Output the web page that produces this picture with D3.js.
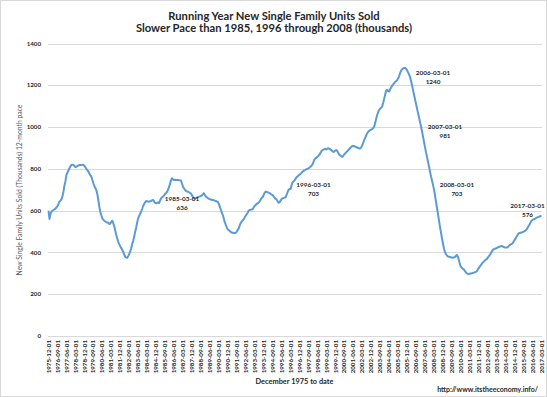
<!DOCTYPE html>
<html>
<head>
  <meta charset="utf-8">
  <title>Running Year New Single Family Units Sold</title>
  <script src="https://d3js.org/d3.v7.min.js"></script>
  <style>
    body {
      margin: 0;
      background: #fff;
      font-family: Lato, "Open Sans", sans-serif;
    }
    .grid line { stroke: #d9d9d9; stroke-width: 1; }
    .tick-label { font-size: 6.2px; font-weight: bold; fill: #262626; }
    .ann { font-size: 6.4px; font-weight: bold; fill: #262626; text-anchor: middle; }
  </style>
</head>
<body>
  <div id="chart"></div>

  <script>
    // first and last month of the series (12-month running total, thousands)
    const firstMonth = "1975-12-01";
    const lastMonth = "2017-03-01";

    // one row per year
    const unitsSold = [
      600,                                                              // 1975
      560, 585, 595, 600, 603, 606, 610, 615, 622, 632, 643, 648,      // 1976
      654, 668, 691, 720, 740, 771, 782, 793, 803, 812, 819, 820,      // 1977
      819, 814, 808, 810, 813, 816, 818, 819, 819, 820, 819, 815,      // 1978
      808, 800, 794, 787, 778, 770, 763, 748, 731, 718, 708, 699,      // 1979
      680, 651, 620, 595, 578, 563, 557, 552, 548, 545, 543, 542,      // 1980
      536, 538, 546, 552, 540, 525, 505, 485, 468, 451, 440, 430,      // 1981
      421, 412, 403, 390, 379, 376, 374, 382, 392, 405, 419, 440,      // 1982
      455, 475, 497, 518, 542, 563, 575, 585, 595, 608, 622, 632,      // 1983
      640, 646, 645, 643, 643, 645, 646, 650, 651, 645, 637, 635,      // 1984
      637, 640, 636, 648, 658, 665, 667, 673, 680, 683, 690, 700,      // 1985
      712, 728, 745, 755, 750, 747, 748, 747, 747, 747, 746, 745,      // 1986
      744, 730, 715, 707, 700, 695, 692, 691, 688, 685, 683, 675,      // 1987
      665, 659, 658, 660, 663, 665, 667, 668, 670, 673, 678, 683,      // 1988
      675, 668, 664, 660, 657, 654, 653, 652, 651, 650, 648, 646,      // 1989
      644, 643, 632, 619, 605, 592, 579, 562, 545, 532, 520, 510,      // 1990
      507, 502, 498, 495, 494, 493, 493, 494, 500, 508, 515, 530,      // 1991
      542, 548, 554, 558, 568, 576, 583, 590, 600, 603, 604, 605,      // 1992
      606, 615, 622, 627, 632, 635, 638, 645, 652, 660, 664, 675,      // 1993
      685, 691, 690, 688, 686, 684, 680, 677, 675, 668, 662, 656,      // 1994
      654, 645, 638, 640, 648, 655, 659, 660, 662, 664, 675, 688,      // 1995
      699, 703, 703, 720, 735, 740, 745, 752, 760, 763, 768, 772,      // 1996
      776, 781, 786, 790, 793, 795, 798, 800, 802, 806, 810, 815,      // 1997
      820, 832, 845, 850, 853, 858, 862, 868, 875, 884, 890, 892,      // 1998
      894, 895, 893, 897, 899, 896, 893, 890, 885, 881, 884, 888,      // 1999
      890, 885, 876, 868, 864, 860, 858, 863, 870, 875, 880, 885,      // 2000
      890, 895, 900, 905, 910, 908, 909, 906, 903, 902, 900, 898,      // 2001
      898, 903, 912, 925, 938, 948, 960, 970, 978, 982, 985, 988,      // 2002
      990, 995, 1003, 1020, 1040, 1058, 1072, 1082, 1088, 1093, 1098, 1115, // 2003
      1135, 1155, 1175, 1178, 1172, 1170, 1180, 1190, 1197, 1203, 1210, 1215, // 2004
      1220, 1224, 1232, 1243, 1258, 1270, 1276, 1281, 1283, 1283, 1280, 1272, // 2005
      1262, 1252, 1240, 1222, 1200, 1178, 1155, 1133, 1112, 1090, 1068, 1047, // 2006
      1025, 1004, 981, 955, 930, 905, 880, 858, 835, 812, 788, 765,    // 2007
      745, 725, 703, 675, 645, 615, 585, 555, 525, 498, 470, 445,      // 2008
      420, 402, 393, 385, 381, 379, 378, 377, 376, 375, 376, 378,      // 2009
      383, 388, 380, 365, 345, 332, 326, 322, 319, 312, 305, 300,      // 2010
      298, 297, 298, 299, 300, 302, 303, 305, 307, 310, 317, 325,      // 2011
      332, 338, 345, 351, 356, 361, 365, 368, 375, 381, 387, 395,      // 2012
      403, 411, 415, 418, 419, 421, 424, 426, 428, 430, 431, 429,      // 2013
      426, 424, 423, 423, 425, 430, 435, 438, 441, 444, 452, 460,      // 2014
      467, 475, 484, 491, 493, 494, 495, 497, 499, 502, 506, 510,      // 2015
      518, 526, 534, 543, 551, 556, 558, 560, 563, 566, 568, 570,      // 2016
      572, 574, 576                                                     // 2017
    ];

    const yTicks = [0, 200, 400, 600, 800, 1000, 1200, 1400];

    const annotations = [
      { date: "1985-03-01", value: 636 },
      { date: "1996-03-01", value: 703 },
      { date: "2006-03-01", value: 1240 },
      { date: "2007-03-01", value: 981 },
      { date: "2008-03-01", value: 703 },
      { date: "2017-03-01", value: 576 }
    ];

    const width = 547, height = 397;
    const margin = { top: 43.5, right: 5, bottom: 61, left: 48 };

    const fmt = d3.utcFormat("%Y-%m-%d");
    const months = d3.utcMonth.range(new Date(firstMonth), d3.utcMonth.offset(new Date(lastMonth), 1)).map(fmt);
    const data = months.map((m, i) => ({ date: m, value: unitsSold[i] }));

    const svg = d3.select("#chart").append("svg")
      .attr("width", width)
      .attr("height", height);

    // chart area border
    svg.append("rect")
      .attr("x", 0.5).attr("y", 0.5)
      .attr("width", width - 1).attr("height", height - 1)
      .attr("fill", "#fff")
      .attr("stroke", "#d9d9d9");

    const x = d3.scalePoint()
      .domain(months)
      .range([margin.left, width - margin.right])
      .padding(0.5);

    const y = d3.scaleLinear()
      .domain([0, 1400])
      .range([height - margin.bottom, margin.top]);

    // gridlines + y labels
    const grid = svg.append("g").attr("class", "grid");
    grid.selectAll("line")
      .data(yTicks)
      .join("line")
      .attr("x1", margin.left)
      .attr("x2", width - margin.right)
      .attr("y1", d => Math.round(y(d)) + 0.5)
      .attr("y2", d => Math.round(y(d)) + 0.5);

    svg.append("g").selectAll("text")
      .data(yTicks)
      .join("text")
      .attr("class", "tick-label")
      .attr("x", 41)
      .attr("y", d => y(d))
      .attr("dy", "0.35em")
      .attr("text-anchor", "end")
      .text(d => d);

    // x tick labels every 9 months
    const xTicks = months.filter((m, i) => i % 9 === 0);
    svg.append("g").selectAll("text")
      .data(xTicks)
      .join("text")
      .attr("class", "tick-label")
      .attr("transform", d => `translate(${x(d)},340) rotate(-90)`)
      .attr("dy", "0.35em")
      .attr("text-anchor", "end")
      .text(d => d);

    // the line
    const line = d3.line()
      .x(d => x(d.date))
      .y(d => y(d.value));

    svg.append("path")
      .datum(data)
      .attr("fill", "none")
      .attr("stroke", "#5b9bd5")
      .attr("stroke-width", 2)
      .attr("stroke-linejoin", "round")
      .attr("d", line);

    // data labels, placed to the right of their points
    const ann = svg.append("g").selectAll("text")
      .data(annotations)
      .join("text")
      .attr("class", "ann")
      .attr("transform", (d, i) => {
        const last = i === annotations.length - 1;
        const dx = last ? -14 : 23;
        const dy = last ? -6 : 0;
        return `translate(${x(d.date) + dx},${y(d.value) + dy})`;
      });
    ann.append("tspan").attr("x", 0).attr("y", -2).text(d => d.date);
    ann.append("tspan").attr("x", 0).attr("y", 7).text(d => d.value);

    // titles
    svg.append("text")
      .attr("x", 274).attr("y", 19.5)
      .attr("text-anchor", "middle")
      .style("font-size", "11.2px").style("font-weight", "bold").style("fill", "#262626")
      .text("Running Year New Single Family Units Sold");
    svg.append("text")
      .attr("x", 274).attr("y", 31.8)
      .attr("text-anchor", "middle")
      .style("font-size", "11.2px").style("font-weight", "bold").style("fill", "#262626")
      .text("Slower Pace than 1985, 1996 through 2008 (thousands)");

    svg.append("text")
      .attr("transform", "translate(22,190) rotate(-90)")
      .attr("text-anchor", "middle")
      .style("font-size", "6.8px").style("fill", "#595959")
      .text("New Single Family Units Sold (Thousands) 12-month pace");

    svg.append("text")
      .attr("x", 294.5).attr("y", 384)
      .attr("text-anchor", "middle")
      .style("font-size", "7.4px").style("font-weight", "bold").style("fill", "#262626")
      .text("December 1975 to date");

    svg.append("text")
      .attr("x", 538).attr("y", 391.5)
      .attr("text-anchor", "end")
      .style("font-size", "7px").style("font-weight", "bold").style("fill", "#262626")
      .text("http://www.itstheeconomy.info/");
  </script>
</body>
</html>
